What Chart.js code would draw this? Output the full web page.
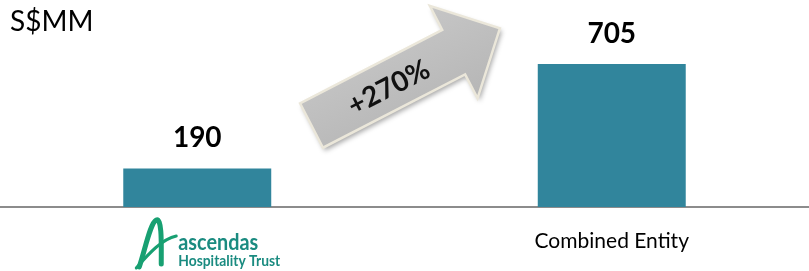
<!DOCTYPE html>
<html>
<head>
<meta charset="utf-8">
<title>S$MM</title>
<script src="https://cdn.jsdelivr.net/npm/chart.js"></script>
<style>
  html, body { margin: 0; padding: 0; background: #fff; }
  .wrap { position: relative; width: 809px; height: 271px; overflow: hidden; }
  .wrap canvas { position: absolute; left: -10px; top: 0; }
</style>
</head>
<body>
<div class="wrap">
  <canvas id="chart" width="829" height="271"></canvas>
</div>
<script>
const categories = ['ascendas Hospitality Trust', 'Combined Entity'];
const values = [190, 705];
const growthLabel = '+270%';
const unitLabel = 'S$MM';

const BAR = '#31859c';
const FONT = 'Lato, "Open Sans", sans-serif';

// draw text squeezed to a given width
function fitText(ctx, text, x, y, width) {
  const w = ctx.measureText(text).width;
  ctx.save();
  ctx.translate(x, y);
  ctx.scale(width / w, 1);
  ctx.fillText(text, 0, 0);
  ctx.restore();
}

// value labels above bars
const valueLabels = {
  id: 'valueLabels',
  afterDatasetsDraw(chart) {
    const ctx = chart.ctx;
    const meta = chart.getDatasetMeta(0);
    ctx.save();
    ctx.font = 'bold 28px ' + FONT;
    ctx.fillStyle = '#000';
    ctx.textAlign = 'center';
    ctx.textBaseline = 'middle';
    meta.data.forEach((bar, i) => {
      ctx.fillText(String(values[i]), bar.x, bar.y - 30);
    });
    ctx.restore();
  }
};

// title, growth arrow and logo
const decorations = {
  id: 'decorations',
  afterDraw(chart) {
    const ctx = chart.ctx;
    const area = chart.chartArea;
    const xs = chart.scales.x;
    ctx.save();

    // unit label
    ctx.font = '28px ' + FONT;
    ctx.fillStyle = '#000';
    ctx.textBaseline = 'middle';
    ctx.fillText(unitLabel, 20, 22);

    // growth arrow (drawn in a rotated frame)
    const cx = 311.5 + 10, cy = 125.5;
    const ang = -27.3 * Math.PI / 180;
    ctx.save();
    ctx.translate(cx, cy);
    ctx.rotate(ang);
    const shaftLen = 160, shaft = 25, headW = 52, tip = 212;
    ctx.beginPath();
    ctx.moveTo(0, -shaft);
    ctx.lineTo(shaftLen, -shaft);
    ctx.lineTo(shaftLen, -headW);
    ctx.lineTo(tip, 0);
    ctx.lineTo(shaftLen, headW);
    ctx.lineTo(shaftLen, shaft);
    ctx.lineTo(0, shaft);
    ctx.closePath();
    ctx.shadowColor = 'rgba(0,0,0,0.35)';
    ctx.shadowBlur = 5;
    ctx.shadowOffsetX = 2;
    ctx.shadowOffsetY = 3;
    const g = ctx.createLinearGradient(0, -headW, 0, headW);
    g.addColorStop(0, '#c6c6c6');
    g.addColorStop(1, '#b6b6b6');
    ctx.fillStyle = g;
    ctx.fill();
    ctx.shadowColor = 'transparent';
    ctx.lineWidth = 2.5;
    ctx.strokeStyle = '#ebe7da';
    ctx.stroke();
    ctx.font = 'bold 28px ' + FONT;
    ctx.fillStyle = '#111';
    ctx.textAlign = 'center';
    ctx.textBaseline = 'middle';
    ctx.fillText(growthLabel, 86, 2);
    ctx.restore();

    // logo for the first category
    const lx = xs.getPixelForValue(0);
    const top = area.bottom;
    ctx.save();
    ctx.strokeStyle = '#18a072';
    ctx.lineCap = 'round';
    ctx.lineWidth = 5;
    ctx.beginPath();
    ctx.moveTo(lx - 58, top + 60);
    ctx.bezierCurveTo(lx - 52, top + 42, lx - 47, top + 16, lx - 41, top + 13);
    ctx.bezierCurveTo(lx - 35, top + 11, lx - 36, top + 38, lx - 36, top + 57);
    ctx.stroke();
    ctx.lineWidth = 3;
    ctx.beginPath();
    ctx.moveTo(lx - 61, top + 61);
    ctx.bezierCurveTo(lx - 48, top + 46, lx - 35, top + 32, lx - 21, top + 29);
    ctx.stroke();
    ctx.fillStyle = '#1a8b80';
    ctx.textAlign = 'left';
    ctx.textBaseline = 'alphabetic';
    ctx.font = 'bold 23px ' + FONT;
    fitText(ctx, 'ascendas', lx - 19, top + 43, 80);
    ctx.font = 'bold 15px ' + FONT;
    fitText(ctx, 'Hospitality Trust', lx - 19, top + 59, 102);
    ctx.restore();

    ctx.restore();
  }
};

new Chart(document.getElementById('chart'), {
  type: 'bar',
  data: {
    labels: categories,
    datasets: [{
      data: values,
      backgroundColor: BAR,
      borderWidth: 0,
      barPercentage: 0.357,
      categoryPercentage: 1
    }]
  },
  options: {
    responsive: false,
    animation: false,
    layout: { padding: { top: 4, left: 0, right: 0, bottom: 0 } },
    plugins: { legend: { display: false }, tooltip: { enabled: false } },
    scales: {
      y: { display: false, min: 0, max: 1000 },
      x: {
        grid: { display: false, drawTicks: false },
        border: { display: true, color: '#8c8c8c', width: 2 },
        afterFit: (scale) => { scale.height = 64; },
        ticks: {
          padding: 22,
          color: '#000',
          font: { family: FONT, size: 21 },
          callback: (v, i) => (i === 0 ? '' : categories[i])
        }
      }
    }
  },
  plugins: [valueLabels, decorations]
});
</script>
</body>
</html>
